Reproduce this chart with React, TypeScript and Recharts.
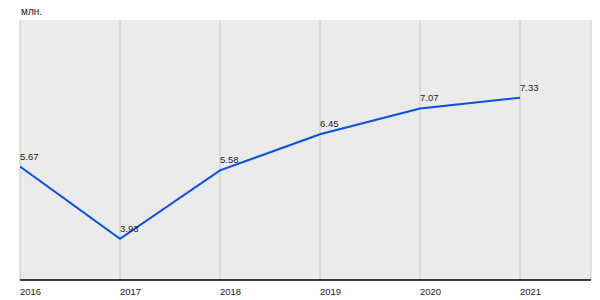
import { LineChart, Line, XAxis, YAxis, CartesianGrid, LabelList } from 'recharts'

const years = [2016, 2017, 2018, 2019, 2020, 2021]
const values = [5.67, 3.93, 5.58, 6.45, 7.07, 7.33]
const unitLabel = 'млн.'

const data = years.map((year, i) => ({ year, value: values[i] }))

const FONT = 'Arial, "Liberation Sans", sans-serif'

function YearTick(props: any) {
  const { x, y, payload } = props
  return (
    <text x={x} y={y + 7} textAnchor="start" fontSize={9.5} fontFamily={FONT} fill="#222">
      {payload.value}
    </text>
  )
}

function ValueLabel(props: any) {
  const { x, y, value } = props
  return (
    <text x={x} y={y - 7} textAnchor="start" fontSize={9.5} fontFamily={FONT} fill="#222">
      {value.toFixed(2)}
    </text>
  )
}

export default function App() {
  return (
    <div style={{ position: 'absolute', left: 0, top: 0, width: 600, height: 300, background: '#fff' }}>
      <LineChart width={600} height={300} data={data} margin={{ top: 20, right: 9, bottom: 0, left: 20 }}>
        <CartesianGrid fill="#ebebeb" stroke="#c8c8c8" horizontal={false} />
        <XAxis
          type="number"
          dataKey="year"
          domain={[2016, 2021.71]}
          ticks={years}
          allowDataOverflow
          tick={<YearTick />}
          tickLine={false}
          axisLine={{ stroke: '#000', strokeWidth: 1.5 }}
          height={20}
        />
        <YAxis
          type="number"
          domain={[2.94, 9.2]}
          allowDataOverflow
          width={0}
          tick={false}
          tickLine={false}
          axisLine={{ stroke: '#000', strokeWidth: 1.5 }}
        />
        <Line
          type="linear"
          dataKey="value"
          stroke="#0a50e6"
          strokeWidth={2}
          dot={false}
          isAnimationActive={false}
        >
          <LabelList dataKey="value" content={<ValueLabel />} />
        </Line>
      </LineChart>
      <div style={{ position: 'absolute', left: 21, top: 6, fontSize: 10, fontFamily: FONT, color: '#222' }}>
        {unitLabel}
      </div>
    </div>
  )
}
